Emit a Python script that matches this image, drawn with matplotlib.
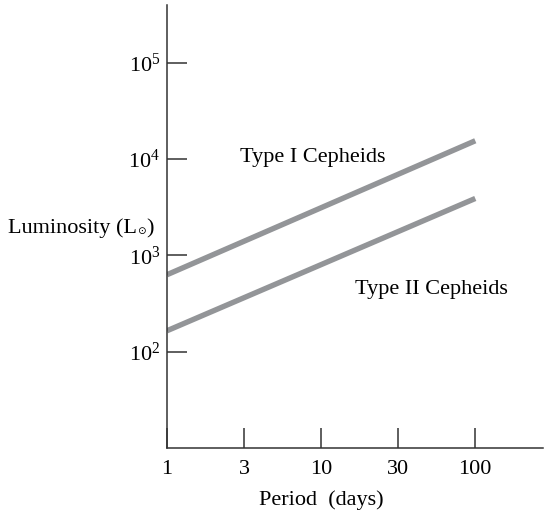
import matplotlib
matplotlib.use("Agg")
import matplotlib.pyplot as plt

plt.rcParams['font.family'] = ['Liberation Serif', 'DejaVu Serif']
plt.rcParams['mathtext.fontset'] = 'custom'
plt.rcParams['mathtext.rm'] = 'Liberation Serif'
plt.rcParams['mathtext.it'] = 'Liberation Serif:italic'
plt.rcParams['mathtext.fallback'] = 'stix'

# Data
periods = [1, 100]
type1_lum = [630, 15500]
type2_lum = [165, 3900]

xtick_vals = [1, 10**0.5, 10, 10**1.5, 100]
xtick_labels = ["1", "3", "10", "30", "100"]
ytick_vals = [1e2, 1e3, 1e4, 1e5]
ytick_labels = [r"$\mathrm{10}^{2}$", r"$\mathrm{10}^{3}$", r"$\mathrm{10}^{4}$", r"$\mathrm{10}^{5}$"]

fig = plt.figure(figsize=(5.44, 5.17), dpi=100)
ax = fig.add_axes([167/544, 1-448/517, 376/544, 443/517])

line_color = "#939598"
ax.plot(periods, type1_lum, color=line_color, lw=3.9, solid_capstyle='butt')
ax.plot(periods, type2_lum, color=line_color, lw=3.9, solid_capstyle='butt')

ax.set_xscale('log')
ax.set_yscale('log')
ax.set_xlim(1, 275)
ax.set_ylim(10, 10**5.6)

ax.set_xticks(xtick_vals)
ax.set_xticklabels(xtick_labels)
ax.set_yticks(ytick_vals)
ax.set_yticklabels(ytick_labels)
ax.minorticks_off()

for s in ['top', 'right']:
    ax.spines[s].set_visible(False)
for s in ['left', 'bottom']:
    ax.spines[s].set_linewidth(1.1)
    ax.spines[s].set_color('#333333')

fs = 16
ax.tick_params(axis='both', direction='in', length=14.5, width=1.1, color='#333333',
               labelsize=fs)
ax.tick_params(axis='x', pad=9)
ax.tick_params(axis='y', pad=5)

ax.text(0.194, 0.655, "Type I Cepheids", transform=ax.transAxes,
        ha='left', va='center', fontsize=fs)
ax.text(0.50, 0.357, "Type II Cepheids", transform=ax.transAxes,
        ha='left', va='center', fontsize=fs)
ax.text(0.41, -0.118, "Period  (days)", transform=ax.transAxes,
        ha='center', va='center', fontsize=fs)

# y label composed of pieces: "Luminosity (L" + small sun symbol + ")"
renderer = fig.canvas.get_renderer()
W, H = fig.bbox.width, fig.bbox.height
base_y = 1 - 233/517
t1 = fig.text(8/544, base_y, "Luminosity (L", ha='left', va='baseline', fontsize=fs)
bb = t1.get_window_extent(renderer)
t2 = fig.text(bb.x1 / W + 0.5/544, base_y - 1/517, "\u2299", ha='left', va='baseline',
              fontsize=7.5, family='DejaVu Sans')
bb2 = t2.get_window_extent(renderer)
fig.text(bb2.x1 / W + 0.5/544, base_y, ")", ha='left', va='baseline', fontsize=fs)

fig.savefig("out.png", dpi=100)
